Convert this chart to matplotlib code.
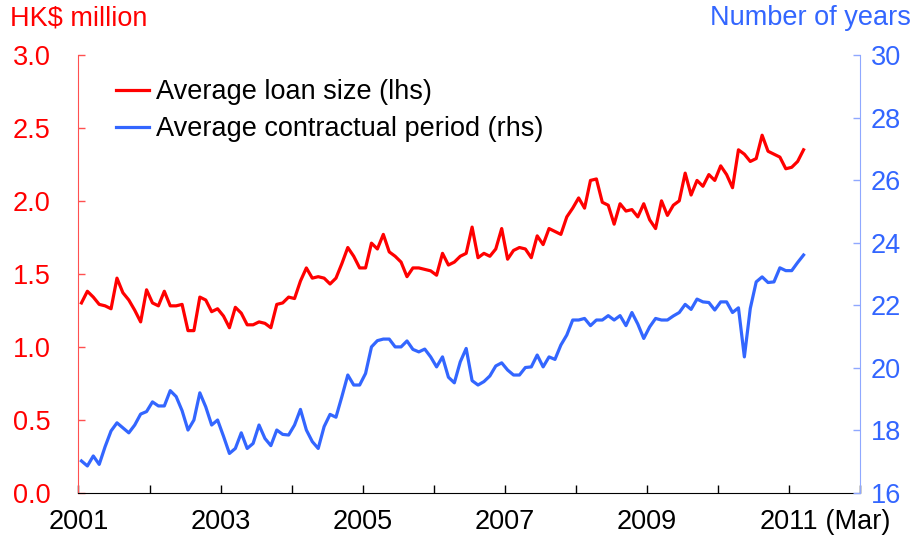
import numpy as np
import matplotlib.pyplot as plt

plt.rcParams['font.family'] = ['Liberation Sans', 'DejaVu Sans']

# monthly figures, Jan 2001 - Mar 2011
loan_size = [
    1.30, 1.38, 1.34, 1.29, 1.28, 1.26, 1.47, 1.37, 1.32, 1.25, 1.17, 1.39,
    1.30, 1.28, 1.38, 1.28, 1.28, 1.29, 1.11, 1.11, 1.34, 1.32, 1.24, 1.26,
    1.21, 1.13, 1.27, 1.23, 1.15, 1.15, 1.17, 1.16, 1.13, 1.29, 1.30, 1.34,
    1.33, 1.45, 1.54, 1.47, 1.48, 1.47, 1.43, 1.47, 1.57, 1.68, 1.62, 1.54,
    1.54, 1.71, 1.67, 1.77, 1.65, 1.62, 1.58, 1.48, 1.54, 1.54, 1.53, 1.52,
    1.49, 1.64, 1.56, 1.58, 1.62, 1.64, 1.82, 1.61, 1.64, 1.62, 1.67, 1.81,
    1.60, 1.66, 1.68, 1.67, 1.61, 1.76, 1.70, 1.81, 1.79, 1.77, 1.89, 1.95,
    2.02, 1.95, 2.14, 2.15, 1.99, 1.97, 1.84, 1.98, 1.93, 1.94, 1.89, 1.98,
    1.87, 1.81, 2.00, 1.90, 1.97, 2.00, 2.19, 2.04, 2.14, 2.10, 2.18, 2.14,
    2.24, 2.18, 2.09, 2.35, 2.32, 2.27, 2.29, 2.45, 2.34, 2.32, 2.30, 2.22,
    2.23, 2.27, 2.35,
]
contract_period = [
    17.01, 16.85, 17.17, 16.90, 17.47, 17.97, 18.23, 18.07, 17.91, 18.16, 18.51, 18.59,
    18.90, 18.77, 18.77, 19.26, 19.07, 18.62, 18.00, 18.32, 19.19, 18.74, 18.16, 18.32,
    17.80, 17.25, 17.41, 17.91, 17.41, 17.57, 18.16, 17.73, 17.50, 18.00, 17.86, 17.84,
    18.16, 18.66, 18.00, 17.63, 17.41, 18.11, 18.50, 18.41, 19.07, 19.76, 19.44, 19.44,
    19.81, 20.66, 20.86, 20.91, 20.91, 20.66, 20.66, 20.85, 20.58, 20.50, 20.59, 20.34,
    20.02, 20.34, 19.69, 19.51, 20.18, 20.61, 19.58, 19.44, 19.55, 19.73, 20.05, 20.15,
    19.92, 19.76, 19.76, 20.00, 20.02, 20.40, 20.02, 20.34, 20.26, 20.72, 21.04, 21.52,
    21.52, 21.57, 21.34, 21.52, 21.52, 21.66, 21.52, 21.66, 21.34, 21.76, 21.39, 20.93,
    21.30, 21.57, 21.52, 21.52, 21.65, 21.76, 22.02, 21.86, 22.19, 22.10, 22.08, 21.84,
    22.10, 22.10, 21.76, 21.91, 20.34, 21.89, 22.74, 22.90, 22.72, 22.74, 23.19, 23.10,
    23.10, 23.36, 23.60,
]

year_ticks = list(range(2001, 2013))
year_labels = ['2001', '', '2003', '', '2005', '', '2007', '', '2009', '', '2011', '']
left_ticks = [0.0, 0.5, 1.0, 1.5, 2.0, 2.5, 3.0]
right_ticks = [16, 18, 20, 22, 24, 26, 28, 30]

red = '#ff0000'
blue = '#3366ff'
fs = 19.5

months = np.arange(len(loan_size))
x = 2001 + (months + 0.5) / 12

fig = plt.figure(figsize=(9.17, 5.5), dpi=100)
ax = fig.add_axes([0.0856, 0.1045, 0.852, 0.7955])
ax2 = ax.twinx()

l1, = ax.plot(x, loan_size, color=red, lw=2.3, label='Average loan size (lhs)')
l2, = ax2.plot(x, contract_period, color=blue, lw=2.3,
               label='Average contractual period (rhs)')

ax.set_xlim(2001, 2012)
ax.set_ylim(0, 3)
ax2.set_ylim(16, 30)

ax.set_xticks(year_ticks)
ax.set_xticklabels(year_labels)
ax.set_yticks(left_ticks)
ax.set_yticklabels([f'{v:.1f}' for v in left_ticks])
ax2.set_yticks(right_ticks)

ax.tick_params(axis='x', direction='in', length=6, width=1, pad=12,
               labelsize=fs, colors='black')
ax.tick_params(axis='y', direction='in', length=5, width=1, pad=20,
               labelsize=fs, colors=red)
ax2.tick_params(axis='y', direction='in', length=5, width=1, pad=8,
                labelsize=fs, colors=blue)
ax.yaxis.set_tick_params(color='#ff5050')
ax2.yaxis.set_tick_params(color='#8fa8ff')

for s in ['top', 'right']:
    ax.spines[s].set_visible(False)
for s in ['top', 'left', 'bottom']:
    ax2.spines[s].set_visible(False)
ax.spines['left'].set_color('#ff5050')
ax.spines['bottom'].set_color('black')
ax2.spines['right'].set_color('#8fa8ff')

# "(Mar)" after the 2011 label
lab2011 = ax.get_xticklabels()[10]
ax.annotate(' (Mar)', xy=(1, 0), xycoords=lab2011, ha='left', va='bottom',
            fontsize=fs, color='black')

fig.text(0.011, 0.967, 'HK\\$ million', color=red, fontsize=fs,
         ha='left', va='center')
fig.text(0.993, 0.967, 'Number of years', color=blue, fontsize=fs,
         ha='right', va='center')

ax2.legend(handles=[l1, l2], loc='upper left', bbox_to_anchor=(0.127, 0.856),
           bbox_transform=fig.transFigure, frameon=False, fontsize=fs,
           handlelength=1.2, handletextpad=0.25, labelspacing=0.4,
           borderpad=0, borderaxespad=0)

fig.savefig('out.png', dpi=100)
